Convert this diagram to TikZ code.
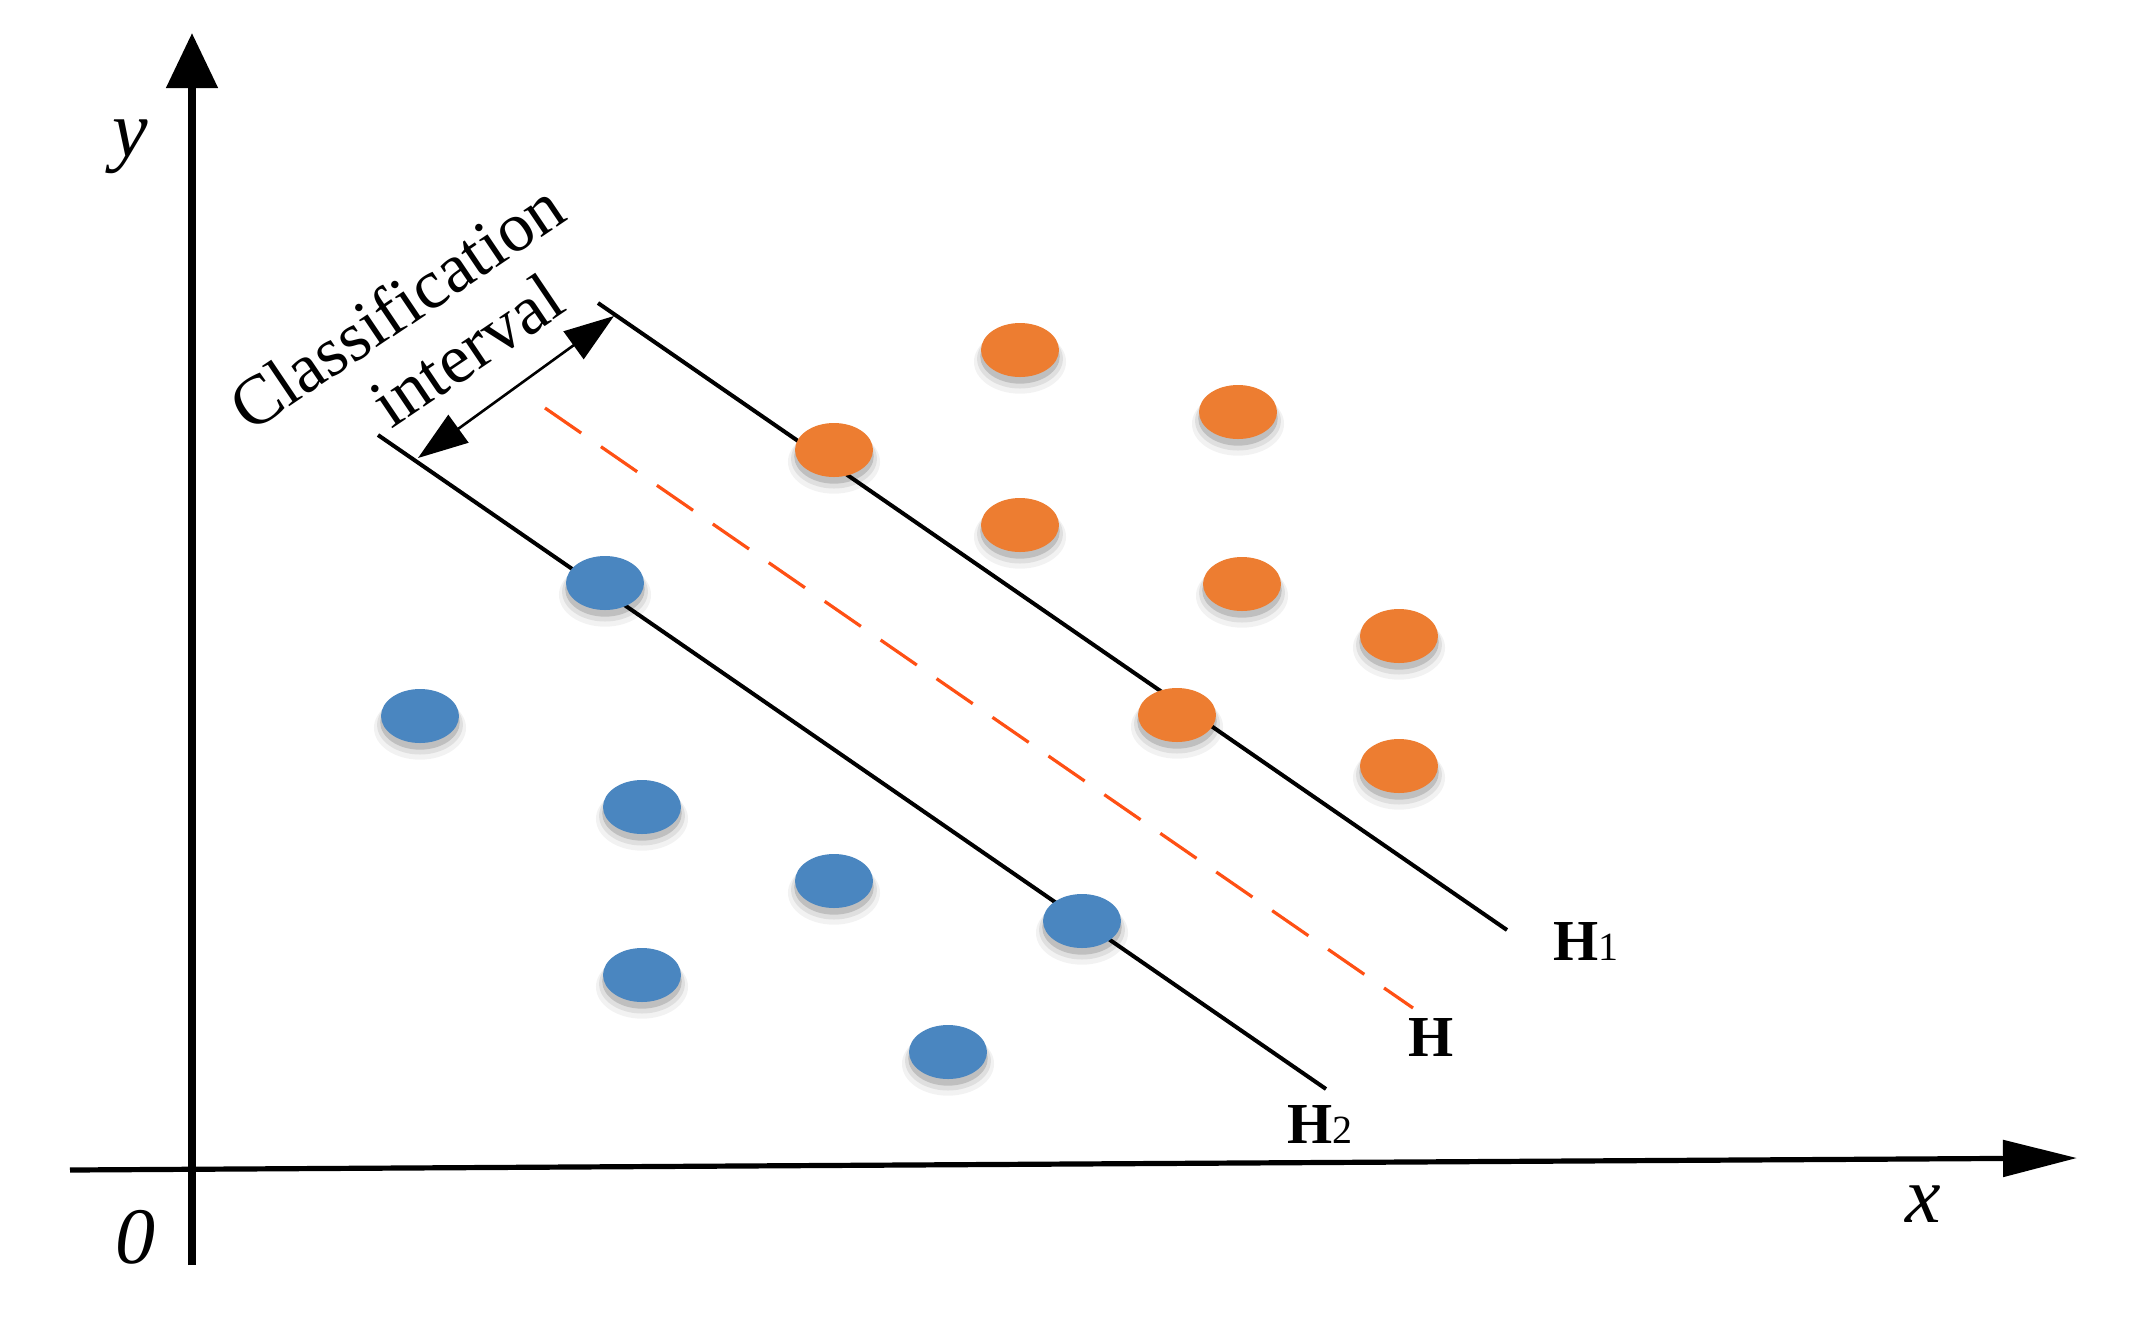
\documentclass[tikz,border=0pt]{standalone}
\usepackage{fontspec}
\setmainfont{Liberation Serif}
\usetikzlibrary{arrows.meta,shapes.geometric,shadows}
\definecolor{dotorange}{RGB}{237,125,49}
\definecolor{dotblue}{RGB}{74,134,192}
\definecolor{hred}{RGB}{255,80,20}
\begin{document}
\begin{tikzpicture}[x=0.5pt,y=-0.5pt,
  dotbase/.style={ellipse, minimum width=39pt, minimum height=27pt, inner sep=0pt, draw=none,
    general shadow={fill=black, opacity=0.05, shadow scale=1.18, shadow yshift=-5pt},
    general shadow={fill=black, opacity=0.08, shadow scale=1.10, shadow yshift=-4pt},
    general shadow={fill=black, opacity=0.14, shadow scale=1.02, shadow yshift=-3pt}},
  odot/.style={dotbase, fill=dotorange},
  bdot/.style={dotbase, fill=dotblue},
  hline/.style={line width=2pt, black},
  hdash/.style={line width=1.6pt, hred, dash pattern=on 22pt off 12pt},
  axisy/.style={line width=4pt, -{Triangle[length=27.5pt,width=25pt]}},
  axisx/.style={line width=2.6pt, -{Triangle[length=37pt,width=18pt]}},
  gap/.style={line width=1.3pt, {Triangle[length=25pt,width=17pt]}-{Triangle[length=25pt,width=17pt]}},
  axlabel/.style={font=\fontsize{40}{44}\selectfont\itshape, inner sep=0pt, anchor=base},
  hlabel/.style={font=\fontsize{29}{32}\selectfont, inner sep=0pt, anchor=base west},
  gaplabel/.style={font=\fontsize{35}{40}\selectfont, inner sep=0pt, rotate=34}
]
\useasboundingbox (0,0) rectangle (2133,1319);
\fill[white] (0,0) rectangle (2133,1319);

% axes
\coordinate (ybot) at (192,1265);
\coordinate (ytop) at (192,33);
\coordinate (xleft) at (70,1170);
\coordinate (xright) at (2077,1158);
\draw[axisy] (ybot) -- (ytop);
\draw[axisx] (xleft) -- (xright);
\node[axlabel] (ylab) at (130,156) {y};
\node[axlabel] (xlab) at (1923,1222) {x};
\node[axlabel] (olab) at (135,1263) {0};

% hyperplanes
\coordinate (H1a) at (598,303);
\coordinate (H1b) at (1507,930);
\coordinate (H2a) at (378,435);
\coordinate (H2b) at (1326,1089);
\coordinate (Ha) at (545,408);
\coordinate (Hb) at (1413,1008);
\draw[hline] (H1a) -- (H1b);
\draw[hline] (H2a) -- (H2b);
\draw[hdash] (Ha) -- (Hb);

% margin arrow
\coordinate (gapA) at (418,458);
\coordinate (gapB) at (614,316);
\draw[gap] (gapA) -- (gapB);
\node[gaplabel] (cls) at (396,306) {Classification};
\node[gaplabel] (intv) at (467,350) {interval};

% labels
\node[hlabel] (lH1) at (1553,960) {\textbf{H}{\fontsize{20}{22}\selectfont 1}};
\node[hlabel] (lH) at (1408,1056) {\textbf{H}};
\node[hlabel] (lH2) at (1287,1143) {\textbf{H}{\fontsize{20}{22}\selectfont 2}};

% orange points
\node[odot] (o1) at (1020,350) {};
\node[odot] (o2) at (1238,412) {};
\node[odot] (o3) at (834,450) {};
\node[odot] (o4) at (1020,525) {};
\node[odot] (o5) at (1242,584) {};
\node[odot] (o6) at (1399,636) {};
\node[odot] (o7) at (1177,715) {};
\node[odot] (o8) at (1399,766) {};

% blue points
\node[bdot] (b1) at (605,583) {};
\node[bdot] (b2) at (420,716) {};
\node[bdot] (b3) at (642,807) {};
\node[bdot] (b4) at (834,881) {};
\node[bdot] (b5) at (1082,921) {};
\node[bdot] (b6) at (642,975) {};
\node[bdot] (b7) at (948,1052) {};
\end{tikzpicture}
\end{document}
